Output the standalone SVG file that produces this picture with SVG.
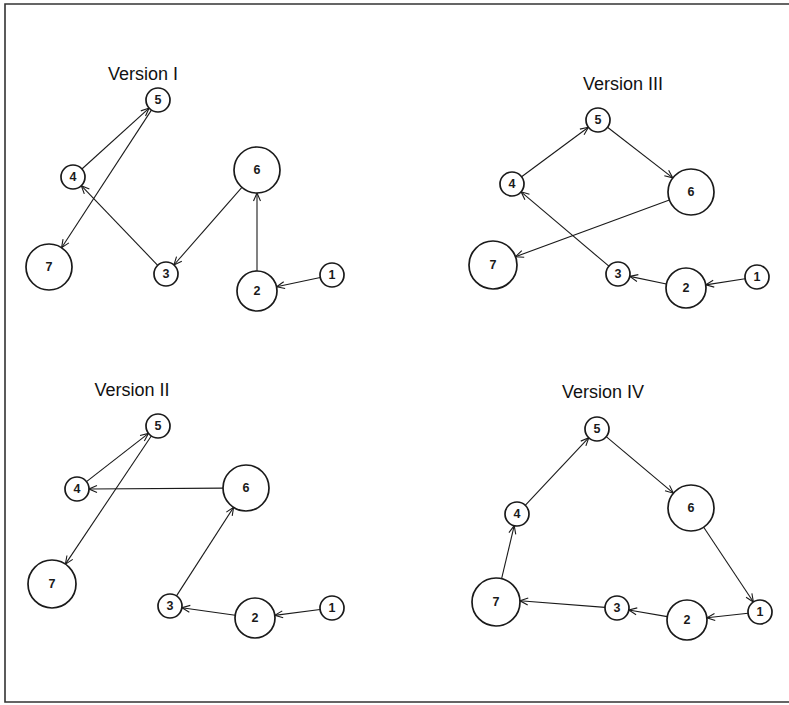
<svg xmlns="http://www.w3.org/2000/svg" width="789" height="705" viewBox="0 0 789 705">
<style>
.n circle{fill:#fff;stroke:#1a1a1a;stroke-width:1.7}
.n text{font-family:"Liberation Sans",Arial,sans-serif;font-size:12.5px;font-weight:bold;fill:#1a1a1a;text-anchor:middle;dominant-baseline:central}
.t{font-family:"Liberation Sans",Arial,sans-serif;font-size:18px;fill:#111;text-anchor:middle}
.e line{stroke:#1a1a1a;stroke-width:1.1;fill:none;marker-end:url(#ah)}
</style>
<defs>
<marker id="ah" markerUnits="userSpaceOnUse" markerWidth="10" markerHeight="10" viewBox="0 0 10 10" refX="9" refY="5" orient="auto">
<path d="M1,1.5 L9,5 L1,8.5" fill="none" stroke="#1a1a1a" stroke-width="1.1"/>
</marker>
</defs>
<rect width="789" height="705" fill="#fff"/>
<path d="M791,4 L5,4 L5,702 L791,702" fill="none" stroke="#333" stroke-width="1.6"/>
<text class="t" x="143" y="80">Version I</text>
<text class="t" x="623" y="90">Version III</text>
<text class="t" x="132" y="396">Version II</text>
<text class="t" x="603" y="398">Version IV</text>
<g id="connectors" class="e">
<line x1="81.9" y1="169" x2="149.1" y2="108.1"/>
<line x1="151.4" y1="110.1" x2="61.6" y2="247.7"/>
<line x1="157.7" y1="265.3" x2="81.3" y2="185.7"/>
<line x1="241.9" y1="187.3" x2="173.9" y2="265"/>
<line x1="257" y1="271" x2="257" y2="193"/>
<line x1="320.3" y1="277.5" x2="276.6" y2="286.8"/>
<line x1="521.6" y1="176.8" x2="588.4" y2="127.2"/>
<line x1="607.5" y1="127.3" x2="672.8" y2="177.9"/>
<line x1="669.4" y1="200" x2="515.5" y2="256.7"/>
<line x1="608.9" y1="266.2" x2="521.1" y2="191.8"/>
<line x1="666.4" y1="284" x2="629.8" y2="276.4"/>
<line x1="745.1" y1="278.8" x2="705.8" y2="284.9"/>
<line x1="86.5" y1="481.6" x2="148.5" y2="433.4"/>
<line x1="151.3" y1="436" x2="65.4" y2="564.1"/>
<line x1="223" y1="488.1" x2="89" y2="489"/>
<line x1="176.5" y1="595.9" x2="233.6" y2="507.3"/>
<line x1="235.2" y1="615.2" x2="181.9" y2="607.7"/>
<line x1="320.1" y1="609.5" x2="274.8" y2="615.4"/>
<line x1="525.2" y1="505.3" x2="588.8" y2="437.7"/>
<line x1="606.2" y1="436.7" x2="673.4" y2="493.2"/>
<line x1="703.7" y1="527.2" x2="753.4" y2="602"/>
<line x1="748.1" y1="613.3" x2="706.9" y2="617.8"/>
<line x1="667.3" y1="616.6" x2="628.8" y2="610"/>
<line x1="605" y1="607.4" x2="520" y2="600.8"/>
<line x1="501.6" y1="578.7" x2="514.2" y2="525.7"/>
</g>
<g id="v1-5" class="n"><circle cx="158" cy="100" r="12"/><text x="158" y="100">5</text></g>
<g id="v1-4" class="n"><circle cx="73" cy="177" r="12"/><text x="73" y="177">4</text></g>
<g id="v1-7" class="n"><circle cx="49" cy="267" r="23"/><text x="49" y="267">7</text></g>
<g id="v1-3" class="n"><circle cx="166" cy="274" r="12"/><text x="166" y="274">3</text></g>
<g id="v1-6" class="n"><circle cx="257" cy="170" r="23"/><text x="257" y="170">6</text></g>
<g id="v1-2" class="n"><circle cx="257" cy="291" r="20"/><text x="257" y="291">2</text></g>
<g id="v1-1" class="n"><circle cx="332" cy="275" r="12"/><text x="332" y="275">1</text></g>
<g id="v3-5" class="n"><circle cx="598" cy="120" r="12"/><text x="598" y="120">5</text></g>
<g id="v3-4" class="n"><circle cx="512" cy="184" r="12"/><text x="512" y="184">4</text></g>
<g id="v3-6" class="n"><circle cx="691" cy="192" r="23"/><text x="691" y="192">6</text></g>
<g id="v3-7" class="n"><circle cx="493" cy="265" r="24"/><text x="493" y="265">7</text></g>
<g id="v3-3" class="n"><circle cx="618" cy="274" r="12"/><text x="618" y="274">3</text></g>
<g id="v3-2" class="n"><circle cx="686" cy="288" r="20"/><text x="686" y="288">2</text></g>
<g id="v3-1" class="n"><circle cx="757" cy="277" r="12"/><text x="757" y="277">1</text></g>
<g id="v2-5" class="n"><circle cx="158" cy="426" r="12"/><text x="158" y="426">5</text></g>
<g id="v2-4" class="n"><circle cx="77" cy="489" r="12"/><text x="77" y="489">4</text></g>
<g id="v2-6" class="n"><circle cx="246" cy="488" r="23"/><text x="246" y="488">6</text></g>
<g id="v2-7" class="n"><circle cx="52" cy="584" r="24"/><text x="52" y="584">7</text></g>
<g id="v2-3" class="n"><circle cx="170" cy="606" r="12"/><text x="170" y="606">3</text></g>
<g id="v2-2" class="n"><circle cx="255" cy="618" r="20"/><text x="255" y="618">2</text></g>
<g id="v2-1" class="n"><circle cx="332" cy="608" r="12"/><text x="332" y="608">1</text></g>
<g id="v4-5" class="n"><circle cx="597" cy="429" r="12"/><text x="597" y="429">5</text></g>
<g id="v4-4" class="n"><circle cx="517" cy="514" r="12"/><text x="517" y="514">4</text></g>
<g id="v4-6" class="n"><circle cx="691" cy="508" r="23"/><text x="691" y="508">6</text></g>
<g id="v4-7" class="n"><circle cx="496" cy="602" r="24"/><text x="496" y="602">7</text></g>
<g id="v4-3" class="n"><circle cx="617" cy="608" r="12"/><text x="617" y="608">3</text></g>
<g id="v4-2" class="n"><circle cx="687" cy="620" r="20"/><text x="687" y="620">2</text></g>
<g id="v4-1" class="n"><circle cx="760" cy="612" r="12"/><text x="760" y="612">1</text></g>
</svg>
